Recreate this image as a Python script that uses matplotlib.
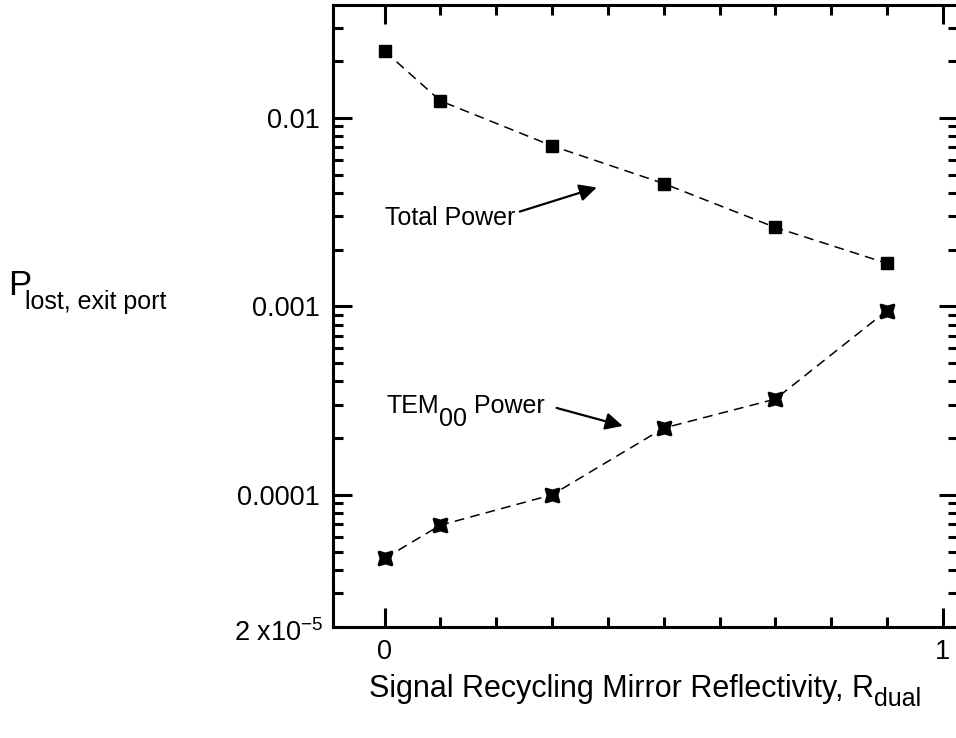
import matplotlib
matplotlib.use('Agg')
import matplotlib.pyplot as plt
import matplotlib.ticker as mtick
import matplotlib.transforms as mtrans

plt.rcParams['font.family'] = ['Liberation Sans', 'DejaVu Sans']
plt.rcParams['mathtext.fontset'] = 'custom'
plt.rcParams['mathtext.rm'] = 'Liberation Sans'
plt.rcParams['mathtext.it'] = 'Liberation Sans'
plt.rcParams['lines.scale_dashes'] = False

# --- dados ---
refletividade = [0.0, 0.1, 0.3, 0.5, 0.7, 0.9]
potencia_total = [0.0226, 0.0123, 0.0071, 0.00448, 0.00262, 0.00169]
potencia_tem00 = [4.6e-5, 6.9e-5, 1.0e-4, 2.26e-4, 3.22e-4, 9.5e-4]

yticks = [1e-4, 1e-3, 1e-2]
yticklabels = ['0.0001', '0.001', '0.01']
ymin_label = r'2 x10$^{\mathregular{-5}}$'
xticks = [0, 1]
xticklabels = ['0', '1']

FS_TICK = 19.5
FS_TXT = 18


def texto_em_partes(fig, x, y, partes, transform, ha='left'):
    """Escreve um texto composto (com subscritos grandes) peça por peça."""
    fig.canvas.draw()
    r = fig.canvas.get_renderer()
    textos, larguras = [], []
    for texto, tam, dy in partes:
        t = fig.text(x, y, texto, fontsize=tam, transform=transform,
                     ha='left', va='baseline')
        larguras.append(t.get_window_extent(renderer=r).width * 72 / fig.dpi)
        textos.append(t)
    total = sum(larguras)
    dx = {'left': 0, 'center': -total / 2, 'right': -total}[ha]
    for t, w, (_, _, dy) in zip(textos, larguras, partes):
        t.set_transform(mtrans.offset_copy(transform, fig=fig, x=dx, y=dy, units='points'))
        dx += w
    return textos


fig = plt.figure(figsize=(9.56, 7.38), dpi=100)
ax = fig.add_axes([0.348, 0.151, 0.654, 0.842])

ax.plot(refletividade, potencia_total, color='black', lw=1.1, dashes=(7, 4.5),
        marker='s', markersize=9, markerfacecolor='black', markeredgecolor='black')
ax.plot(refletividade, potencia_tem00, color='black', lw=1.1, dashes=(7, 4.5),
        marker=(4, 1, 45), markersize=14, markeredgewidth=1.6,
        markerfacecolor='black', markeredgecolor='black')

ax.set_yscale('log')
ax.set_xlim(-0.093, 1.027)
ax.set_ylim(2e-5, 0.0396)

ax.set_yticks(yticks)
ax.set_yticklabels(yticklabels, fontsize=FS_TICK)
ax.yaxis.set_minor_locator(mtick.LogLocator(base=10, subs=range(2, 10), numticks=20))
ax.yaxis.set_minor_formatter(mtick.NullFormatter())

ax.set_xticks(xticks)
ax.set_xticklabels(xticklabels, fontsize=FS_TICK)
ax.xaxis.set_minor_locator(mtick.MultipleLocator(0.1))

ax.tick_params(which='both', direction='in', top=True, right=True, width=2.2, color='black')
ax.tick_params(which='major', length=14)
ax.tick_params(which='minor', length=7)
ax.tick_params(axis='y', which='major', pad=9.5)
ax.tick_params(axis='x', which='major', pad=9)

for s in ax.spines.values():
    s.set_linewidth(2.2)

# rótulo do limite inferior, um pouco abaixo do eixo
ax.annotate(ymin_label, xy=(0, 2e-5), xycoords=('axes fraction', 'data'),
            xytext=(-7, -5), textcoords='offset points',
            fontsize=FS_TICK, ha='right', va='center')

# anotações com setas
seta = dict(arrowstyle='-|>', lw=1.6, color='black', mutation_scale=26,
            shrinkA=0, shrinkB=0)
ax.text(0.0, 0.00269, 'Total Power', fontsize=FS_TXT, ha='left', va='baseline')
ax.annotate('', xy=(0.38, 0.00427), xytext=(0.242, 0.00318), arrowprops=seta)

texto_em_partes(fig, 0.0036, 2.72e-4,
                [('TEM', FS_TXT, 0), ('00', FS_TXT, -9.5), (' Power', FS_TXT, 0)],
                ax.transData)
ax.annotate('', xy=(0.4265, 2.32e-4), xytext=(0.308, 2.89e-4), arrowprops=seta)

# rótulos dos eixos
texto_em_partes(fig, 0.5 * (0.348 + 1.002), 0.055,
                [('Signal Recycling Mirror Reflectivity, R', 22, 0), ('dual', 18, -6.5)],
                fig.transFigure, ha='center')
fig.text(0.008, 0.6003, 'P', fontsize=25, ha='left', va='baseline')
fig.text(0.026, 0.5810, 'lost, exit port', fontsize=FS_TXT, ha='left', va='baseline')

fig.savefig('out.png', dpi=100)
